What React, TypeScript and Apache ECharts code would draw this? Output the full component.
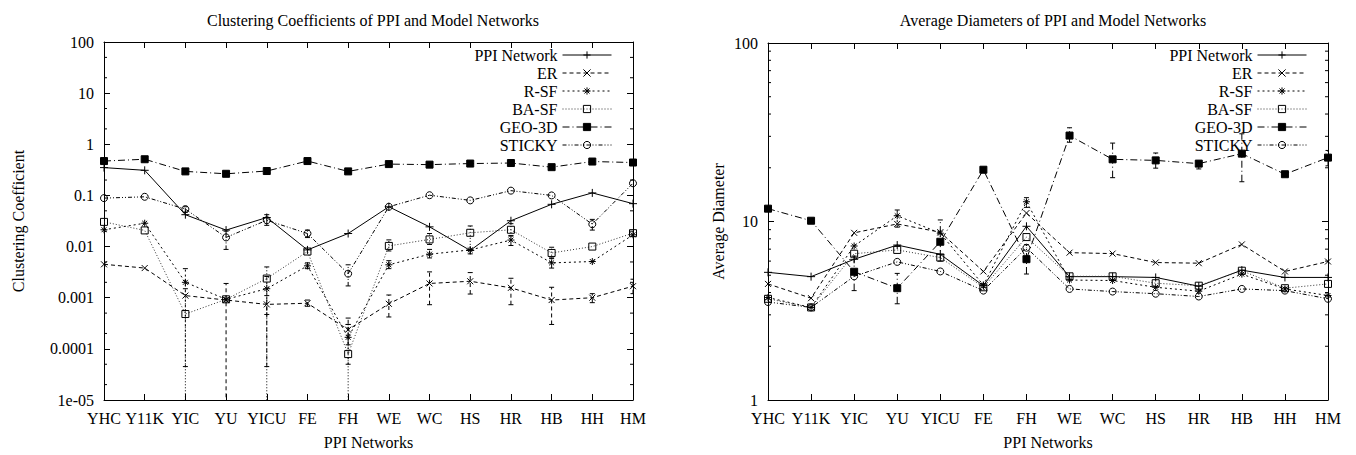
import React, { useEffect, useRef } from 'react';
import * as echarts from 'echarts';

const CATEGORIES = ['YHC', 'Y11K', 'YIC', 'YU', 'YICU', 'FE', 'FH', 'WE', 'WC', 'HS', 'HR', 'HB', 'HH', 'HM'];
const SERIES_NAMES = ['PPI Network', 'ER', 'R-SF', 'BA-SF', 'GEO-3D', 'STICKY'];
const CC_TICK_LABELS = ['1e-05', '0.0001', '0.001', '0.01', '0.1', '1', '10', '100'];
const DIAM_TICK_LABELS = ['1', '10', '100'];
const CC_MINOR = [2e-5, 5e-5, 2e-4, 5e-4, 2e-3, 5e-3, 0.02, 0.05, 0.2, 0.5, 2, 5, 20, 50];
const DIAM_MINOR = [2, 3, 4, 5, 6, 7, 8, 9, 20, 30, 40, 50, 60, 70, 80, 90];

// Clustering coefficients
const CC_PPI = [0.35, 0.31, 0.042, 0.021, 0.037, 0.0086, 0.018, 0.06, 0.0243, 0.0084, 0.032, 0.067, 0.112, 0.069];
const CC_ER = [0.0045, 0.0038, 0.0011, 0.0009, 0.00074, 0.00078, 0.000237, 0.00076, 0.0019, 0.0021, 0.00156, 0.0009, 0.001, 0.00168];
const CC_RSF = [0.0213, 0.0286, 0.002, 0.00093, 0.0015, 0.0042, 0.000168, 0.0044, 0.0071, 0.0086, 0.0134, 0.0048, 0.0051, 0.017];
const CC_BASF = [0.0304, 0.0207, 0.00048, 0.00093, 0.00237, 0.008, 0.000079, 0.0103, 0.0138, 0.0186, 0.0213, 0.0075, 0.01, 0.0183];
const CC_GEO = [0.47, 0.51, 0.295, 0.265, 0.3, 0.47, 0.295, 0.41, 0.4, 0.42, 0.43, 0.357, 0.46, 0.44];
const CC_STICKY = [0.0886, 0.094, 0.054, 0.0151, 0.0327, 0.018, 0.00295, 0.06, 0.101, 0.08, 0.124, 0.1, 0.0274, 0.173];

// Average diameters
const D_PPI = [5.19, 4.91, 6.14, 7.38, 6.55, 4.37, 9.4, 4.91, 4.91, 4.86, 4.34, 5.34, 4.86, 4.86];
const D_ER = [4.47, 3.72, 8.64, 9.69, 8.71, 5.25, 11.15, 6.69, 6.61, 5.89, 5.84, 7.44, 5.25, 5.97];
const D_RSF = [3.75, 3.3, 7.29, 10.77, 8.6, 4.4, 12.9, 4.7, 4.67, 4.28, 4.07, 5.07, 4.19, 3.85];
const D_BASF = [3.69, 3.3, 6.6, 6.93, 6.28, 4.28, 8.18, 4.93, 4.93, 4.51, 4.37, 5.3, 4.23, 4.47];
const D_GEO = [11.8, 10.1, 5.23, 4.23, 7.7, 19.5, 6.15, 30.3, 22.3, 22.0, 21.1, 24.0, 18.4, 22.8];
const D_STICKY = [3.54, 3.3, 4.93, 5.94, 5.25, 4.1, 7.13, 4.19, 4.05, 3.94, 3.8, 4.19, 4.1, 3.69];

// Error bars: [category, series, low, high]
const CC_ERRORS: [string, string, number, number][] = [
  ['YIC', 'R-SF', 4.5e-5, 0.0037],
  ['YIC', 'BA-SF', 1e-7, 0.0015],
  ['YIC', 'STICKY', 0.047, 0.06],
  ['YU', 'ER', 1e-7, 0.0019],
  ['YU', 'STICKY', 0.0088, 0.02],
  ['YICU', 'BA-SF', 1e-7, 0.004],
  ['YICU', 'R-SF', 0.00047, 0.0026],
  ['YICU', 'ER', 4.5e-5, 0.0011],
  ['YICU', 'STICKY', 0.026, 0.042],
  ['FE', 'ER', 0.00068, 0.0009],
  ['FE', 'R-SF', 0.0037, 0.0048],
  ['FE', 'STICKY', 0.015, 0.021],
  ['FH', 'BA-SF', 1e-7, 0.0003],
  ['FH', 'R-SF', 5e-5, 0.0003],
  ['FH', 'ER', 1.2e-4, 0.0004],
  ['FH', 'STICKY', 0.0017, 0.0044],
  ['WE', 'ER', 0.00042, 0.00113],
  ['WE', 'BA-SF', 0.0082, 0.0135],
  ['WE', 'R-SF', 0.0037, 0.0053],
  ['WC', 'ER', 0.00073, 0.0032],
  ['WC', 'BA-SF', 0.011, 0.018],
  ['WC', 'R-SF', 0.006, 0.0088],
  ['HS', 'ER', 0.00118, 0.0031],
  ['HS', 'BA-SF', 0.0072, 0.0253],
  ['HR', 'ER', 0.00073, 0.0024],
  ['HR', 'BA-SF', 0.016, 0.028],
  ['HR', 'R-SF', 0.0105, 0.0165],
  ['HB', 'ER', 0.0003, 0.0016],
  ['HB', 'BA-SF', 0.0058, 0.0097],
  ['HB', 'R-SF', 0.0038, 0.006],
  ['HH', 'ER', 0.0008, 0.0012],
  ['HH', 'STICKY', 0.021, 0.034],
  ['HM', 'ER', 0.0012, 0.0023],
];

const D_ERRORS: [string, string, number, number][] = [
  ['YIC', 'GEO-3D', 4.1, 6.4],
  ['YU', 'GEO-3D', 3.46, 5.12],
  ['YU', 'R-SF', 9.3, 11.6],
  ['YICU', 'GEO-3D', 6.0, 10.2],
  ['FH', 'GEO-3D', 5.08, 7.4],
  ['FH', 'R-SF', 12.0, 13.6],
  ['WE', 'GEO-3D', 27.8, 33.5],
  ['WC', 'GEO-3D', 17.6, 27.5],
  ['HS', 'GEO-3D', 19.9, 24.2],
  ['HR', 'GEO-3D', 19.7, 21.8],
  ['HB', 'GEO-3D', 16.7, 31.0],
  ['HM', 'GEO-3D', 20.5, 25.0],
];

const FONT = 'Liberation Serif';
const PLUS = 'path://M5,0L5,10M0,5L10,5';
const CROSS = 'path://M0,0L10,10M10,0L0,10';
const STAR = 'path://M5,0L5,10M0,5L10,5M1.5,1.5L8.5,8.5M8.5,1.5L1.5,8.5';

const STYLES: any[] = [
  { dash: 'solid', symbol: PLUS, size: 8, fill: '#000', color: '#000' },
  { dash: [4, 3], symbol: CROSS, size: 6, fill: '#000', color: '#000' },
  { dash: [2, 3], symbol: STAR, size: 7, fill: '#000', color: '#000' },
  { dash: [1, 2], symbol: 'rect', size: 7, fill: 'rgba(0,0,0,0)', color: '#333' },
  { dash: [7, 3, 1, 3], symbol: 'rect', size: 7, fill: '#000', color: '#000' },
  { dash: [4, 2, 1, 2, 1, 2], symbol: 'circle', size: 7, fill: 'rgba(0,0,0,0)', color: '#000' },
];

const txt = { fontFamily: FONT, fontSize: 16, color: '#000' };

function lineSeries(idx: number, data: number[], axis: number) {
  const s = STYLES[idx];
  return {
    type: 'line',
    name: SERIES_NAMES[idx],
    xAxisIndex: axis * 2,
    yAxisIndex: axis * 2,
    data,
    symbol: s.symbol,
    symbolSize: s.size,
    showSymbol: true,
    color: '#000',
    lineStyle: { color: s.color, width: 1, type: s.dash },
    itemStyle: { color: s.fill, borderColor: '#000', borderWidth: 1 },
    z: 3,
  };
}

function errorSeries(errs: [string, string, number, number][], axis: number) {
  return {
    type: 'custom',
    xAxisIndex: axis * 2,
    yAxisIndex: axis * 2,
    clip: true,
    silent: true,
    z: 2,
    data: errs.map((e) => [CATEGORIES.indexOf(e[0]), e[2], e[3], SERIES_NAMES.indexOf(e[1])]),
    renderItem: (params: any, api: any) => {
      const i = api.value(0);
      const p1 = api.coord([i, api.value(1)]);
      const p2 = api.coord([i, api.value(2)]);
      const st = STYLES[api.value(3)];
      const style = { stroke: '#000', lineWidth: 1, lineDash: st.dash === 'solid' ? null : st.dash, fill: null };
      return {
        type: 'group',
        children: [
          { type: 'line', shape: { x1: p1[0], y1: p1[1], x2: p2[0], y2: p2[1] }, style },
          { type: 'line', shape: { x1: p1[0] - 2.5, y1: p1[1], x2: p1[0] + 2.5, y2: p1[1] }, style: { stroke: '#000', lineWidth: 1 } },
          { type: 'line', shape: { x1: p2[0] - 2.5, y1: p2[1], x2: p2[0] + 2.5, y2: p2[1] }, style: { stroke: '#000', lineWidth: 1 } },
        ],
      };
    },
  };
}

function minorTickSeries(vals: number[], axis: number) {
  return {
    type: 'custom',
    xAxisIndex: axis * 2,
    yAxisIndex: axis * 2,
    silent: true,
    z: 1,
    data: vals.map((v) => [0, v]),
    renderItem: (params: any, api: any) => {
      const v = api.value(1);
      const l = api.coord([0, v]);
      const r = api.coord([CATEGORIES.length - 1, v]);
      return {
        type: 'group',
        children: [
          { type: 'line', shape: { x1: l[0], y1: l[1], x2: l[0] + 3, y2: l[1] }, style: { stroke: '#000', lineWidth: 1 } },
          { type: 'line', shape: { x1: r[0] - 3, y1: r[1], x2: r[0], y2: r[1] }, style: { stroke: '#000', lineWidth: 1 } },
        ],
      };
    },
  };
}

function xAxes(grid: number) {
  const base = {
    type: 'category',
    gridIndex: grid,
    data: CATEGORIES,
    boundaryGap: false,
    axisLine: { show: true, onZero: false, lineStyle: { color: '#000', width: 1 } },
    axisTick: { show: true, inside: true, length: 6, lineStyle: { color: '#000' } },
    splitLine: { show: false },
  };
  return [
    {
      ...base,
      position: 'bottom',
      axisLabel: { ...txt, margin: 10, interval: 0 },
      name: 'PPI Networks',
      nameLocation: 'middle',
      nameGap: 34,
      nameTextStyle: txt,
    },
    { ...base, position: 'top', axisLabel: { show: false } },
  ];
}

function yAxes(grid: number, min: number, max: number, labels: string[], name: string, minExp: number, nameGap: number) {
  const base = {
    type: 'log',
    logBase: 10,
    gridIndex: grid,
    min,
    max,
    axisLine: { show: true, lineStyle: { color: '#000', width: 1 } },
    axisTick: { show: true, inside: true, length: 6, lineStyle: { color: '#000' } },
    splitLine: { show: false },
    minorTick: { show: false },
  };
  return [
    {
      ...base,
      position: 'left',
      axisLabel: {
        ...txt,
        margin: 10,
        formatter: (v: number) => labels[Math.round(Math.log10(v)) - minExp] ?? '',
      },
      name,
      nameLocation: 'middle',
      nameGap,
      nameRotate: 90,
      nameTextStyle: txt,
    },
    { ...base, position: 'right', axisLabel: { show: false } },
  ];
}

function legend(right: number) {
  return {
    orient: 'vertical',
    align: 'right',
    right,
    top: 47,
    padding: 0,
    itemGap: 2,
    itemWidth: 49,
    itemHeight: 9,
    textStyle: txt,
    selectedMode: false,
    lineStyle: { width: 1 },
    itemStyle: { borderWidth: 1 },
    data: SERIES_NAMES,
  };
}

export default function App() {
  const ref = useRef<HTMLDivElement>(null);
  useEffect(() => {
    if (!ref.current) return;
    const chart = echarts.init(ref.current, undefined, { renderer: 'svg' });
    const ccData = [CC_PPI, CC_ER, CC_RSF, CC_BASF, CC_GEO, CC_STICKY];
    const dData = [D_PPI, D_ER, D_RSF, D_BASF, D_GEO, D_STICKY];
    chart.setOption({
      animation: false,
      backgroundColor: '#fff',
      title: [
        { text: 'Clustering Coefficients of PPI and Model Networks', left: 368, top: 7, textAlign: 'center', textStyle: { ...txt, fontWeight: 'normal' } },
        { text: 'Average Diameters of PPI and Model Networks', left: 1048, top: 7, textAlign: 'center', textStyle: { ...txt, fontWeight: 'normal' } },
      ],
      legend: [legend(1356 - 612), legend(1356 - 1307)],
      grid: [
        { left: 104, top: 42, width: 529, height: 362, containLabel: false },
        { left: 768, top: 43, width: 560, height: 361, containLabel: false },
      ],
      xAxis: [...xAxes(0), ...xAxes(1)],
      yAxis: [
        ...yAxes(0, 1e-5, 100, CC_TICK_LABELS, 'Clustering Coefficient', -5, 78),
        ...yAxes(1, 1, 100, DIAM_TICK_LABELS, 'Average Diameter', 0, 42),
      ],
      series: [
        minorTickSeries(CC_MINOR, 0),
        minorTickSeries(DIAM_MINOR, 1),
        errorSeries(CC_ERRORS, 0),
        errorSeries(D_ERRORS, 1),
        ...ccData.map((d, i) => lineSeries(i, d, 0)),
        ...dData.map((d, i) => lineSeries(i, d, 1)),
      ],
    });
    return () => chart.dispose();
  }, []);
  return <div ref={ref} style={{ position: 'absolute', left: 0, top: 0, width: 1356, height: 455, background: '#fff' }} />;
}
